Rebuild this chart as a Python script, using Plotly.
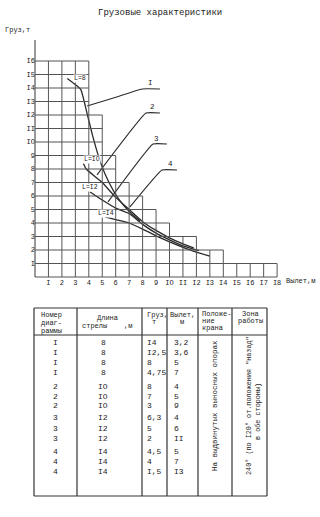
import plotly.graph_objects as go

# ---------------- data ----------------
TITLE = "Грузовые характеристики"
Y_LABEL = "Груз,т"
X_LABEL = "Вылет,м"

y_ticks = list(range(1, 17))
y_tick_text = ["I", "2", "3", "4", "5", "6", "7", "8", "9", "IO", "II", "I2", "I3", "I4", "I5", "I6"]
x_ticks = list(range(1, 19))
x_tick_text = ["I", "2", "3", "4", "5", "6", "7", "8", "9", "IO", "II", "I2", "I3", "I4", "I5", "I6", "I7", "I8"]

# stepped grid: width (reach, m) of the grid row topped at each load level
grid_levels = list(range(1, 17))
grid_widths = [18, 14, 12, 10, 9, 8, 7, 6, 6, 5, 5, 5, 4, 4, 4, 4]
y_axis_top = 17.55

# load curves (reach m, load t)
c1_x = [2.4, 3.4, 3.85, 4.3, 4.9, 5.5, 6.2, 7.0, 7.8]
c1_y = [14.7, 13.9, 12.2, 10.4, 8.4, 7.0, 5.8, 4.85, 4.15]
c2_x = [3.6, 3.8, 5.0, 6.0, 7.0, 8.0, 9.0, 10.0, 11.0, 11.8]
c2_y = [8.4, 8.0, 7.0, 5.9, 5.0, 4.1, 3.45, 2.9, 2.45, 2.15]
c3_x = [4.1, 5.0, 6.0, 7.0, 8.0, 9.0, 10.0, 11.0, 12.2]
c3_y = [6.3, 5.7, 5.1, 4.7, 3.9, 3.25, 2.75, 2.3, 1.95]
c4_x = [5.2, 6.0, 7.0, 8.0, 9.0, 10.0, 11.0, 12.0, 13.0]
c4_y = [4.45, 4.25, 4.0, 3.55, 3.05, 2.6, 2.2, 1.85, 1.55]

boom_labels = ["L=8", "L=IO", "L=I2", "L=I4"]
boom_label_x = [3.35, 4.24, 4.1, 5.28]
boom_label_y = [14.7, 8.74, 6.6, 4.74]

curve_names = ["I", "2", "3", "4"]
lead1_x = [3.87, 5.95, 7.96, 9.29]
lead1_y = [12.67, 13.3, 13.93, 13.93]
lead2_x = [4.61, 8.25, 9.29]
lead2_y = [7.56, 12.15, 12.15]
lead3_x = [5.43, 8.77, 9.81]
lead3_y = [5.56, 9.85, 9.85]
lead4_x = [7.06, 9.44, 10.56]
lead4_y = [5.19, 7.93, 7.93]
name_x = [8.55, 8.77, 9.07, 10.04]
name_y = [14.37, 12.59, 10.22, 8.37]

# table
hdr_num = ["Номер", "диаг-", "раммы"]
hdr_len = ["Длина", "стрелы    ,м"]
hdr_load = ["Груз,", "т"]
hdr_reach = ["Вылет,", "м"]
hdr_pos = ["Положе-", "ние", "крана"]
hdr_zone = ["Зона", "работы"]
col_num = ["I", "I", "I", "I", "2", "2", "2", "3", "3", "3", "4", "4", "4"]
col_len = ["8", "8", "8", "8", "IO", "IO", "IO", "I2", "I2", "I2", "I4", "I4", "I4"]
col_load = ["I4", "I2,5", "8", "4,75", "8", "7", "3", "6,3", "5", "2", "4,5", "4", "I,5"]
col_reach = ["3,2", "3,6", "5", "7", "4", "5", "9", "4", "6", "II", "5", "7", "I3"]
pos_text = "На выдвинутых выносных опорах"
zone_text1 = "240° (по I20° от.положения \"назад\""
zone_text2 = "в обе стороны)"

# ---------------- layout helpers ----------------
W, H = 320, 517
X0, XS = 35.0, 13.45     # pixel of reach 0, px per metre
Y0, YS = 277.0, 13.5     # pixel of load 0, px per tonne
FONT = "Liberation Mono"
INK = "#222222"
GRID = "#555555"

def px(x):
    return x / W

def py(y):
    return 1 - y / H

fig = go.Figure()

shapes = []
# stepped grid
for lev, w in zip(grid_levels, grid_widths):
    shapes.append(dict(type="line", xref="x", yref="y", x0=0, x1=w, y0=lev, y1=lev,
                       line=dict(color=GRID, width=1)))
shapes.append(dict(type="line", xref="x", yref="y", x0=0, x1=max(grid_widths), y0=0, y1=0,
                   line=dict(color=GRID, width=1)))
for j in x_ticks:
    top = max(l for l, w in zip(grid_levels, grid_widths) if w >= j)
    shapes.append(dict(type="line", xref="x", yref="y", x0=j, x1=j, y0=0, y1=top,
                       line=dict(color=GRID, width=1)))
shapes.append(dict(type="line", xref="x", yref="y", x0=0, x1=0, y0=0, y1=y_axis_top,
                   line=dict(color=GRID, width=1.2)))

# curves
for cx, cy in [(c1_x, c1_y), (c2_x, c2_y), (c3_x, c3_y), (c4_x, c4_y)]:
    fig.add_trace(go.Scatter(x=cx, y=cy, mode="lines",
                             line=dict(color="#2a2a2a", width=1.3, shape="spline", smoothing=0.35),
                             hoverinfo="skip", showlegend=False))
for lx, ly in [(lead1_x, lead1_y), (lead2_x, lead2_y), (lead3_x, lead3_y), (lead4_x, lead4_y)]:
    fig.add_trace(go.Scatter(x=lx, y=ly, mode="lines",
                             line=dict(color="#2a2a2a", width=1.1, shape="spline", smoothing=0.3),
                             hoverinfo="skip", showlegend=False))

ann = []
ann.append(dict(text=TITLE, x=px(160), y=py(13), xref="paper", yref="paper", showarrow=False,
                font=dict(family=FONT, size=9, color=INK), xanchor="center", yanchor="middle"))
ann.append(dict(text=Y_LABEL, x=px(3), y=py(30), xref="paper", yref="paper", showarrow=False,
                font=dict(family=FONT, size=7, color=INK), xanchor="left", yanchor="middle"))
ann.append(dict(text=X_LABEL, x=px(284), y=py(281), xref="paper", yref="paper", showarrow=False,
                font=dict(family=FONT, size=7, color=INK), xanchor="left", yanchor="middle"))
for t, x, y in zip(boom_labels, boom_label_x, boom_label_y):
    ann.append(dict(text=t, x=x, y=y, xref="x", yref="y", showarrow=False, bgcolor="white",
                    font=dict(family=FONT, size=6.5, color=INK), xanchor="center", yanchor="middle", borderpad=0))
for t, x, y in zip(curve_names, name_x, name_y):
    ann.append(dict(text=t, x=x, y=y, xref="x", yref="y", showarrow=False,
                    font=dict(family=FONT, size=7.5, color=INK), xanchor="center", yanchor="middle"))

# ---------------- table ----------------
col_edges = [34, 77, 142, 167, 198, 232, 267]
t_top, t_hdr, t_bot = 308, 335, 496
TL = "#333333"
for xe in col_edges:
    shapes.append(dict(type="line", xref="paper", yref="paper", x0=px(xe), x1=px(xe), y0=py(t_top), y1=py(t_bot),
                       line=dict(color=TL, width=1.2)))
for ye in [t_top, t_hdr, t_bot]:
    shapes.append(dict(type="line", xref="paper", yref="paper", x0=px(col_edges[0]), x1=px(col_edges[-1]),
                       y0=py(ye), y1=py(ye), line=dict(color=TL, width=1.2)))

def txt(s, x, y, anchor="left", size=7.5, angle=0):
    ann.append(dict(text=s, x=px(x), y=py(y), xref="paper", yref="paper", showarrow=False, textangle=angle,
                    font=dict(family=FONT, size=size, color=INK), xanchor=anchor, yanchor="middle"))

for i, s in enumerate(hdr_num):
    txt(s, 39, 315 + 8 * i, size=7)
for i, s in enumerate(hdr_len):
    txt(s, 107, 318 + 8 * i, anchor="center", size=7)
for i, s in enumerate(hdr_load):
    txt(s, 145 if i == 0 else 154, 315 + 7 * i, anchor="left" if i == 0 else "center", size=7)
for i, s in enumerate(hdr_reach):
    txt(s, 182, 315 + 7 * i, anchor="center", size=7)
for i, s in enumerate(hdr_pos):
    txt(s, 200, 314 + 7 * i, size=7)
for i, s in enumerate(hdr_zone):
    txt(s, 250, 314 + 7 * i, anchor="center", size=7)

row_y = [342, 352, 362, 372, 386, 396, 405, 417, 428, 438, 451, 461, 471]
for ry, a, b, c, d in zip(row_y, col_num, col_len, col_load, col_reach):
    txt(a, 55, ry, anchor="center", size=8)
    txt(b, 103, ry, anchor="center", size=8)
    txt(c, 145, ry, size=8)
    txt(d, 172, ry, size=8)

txt(pos_text, 215, 406, anchor="center", size=7.5, angle=-90)
txt(zone_text1, 249, 406, anchor="center", size=6.8, angle=-90)
txt(zone_text2, 258, 412, anchor="center", size=6.8, angle=-90)

fig.update_layout(
    width=W, height=H, margin=dict(l=0, r=0, t=0, b=0),
    paper_bgcolor="white", plot_bgcolor="white",
    shapes=shapes, annotations=ann, showlegend=False,
    xaxis=dict(range=[-X0 / XS, (W - X0) / XS], domain=[0, 1], anchor="free", position=1 - Y0 / H,
               tickvals=x_ticks, ticktext=x_tick_text, showgrid=False, zeroline=False, showline=False,
               ticks="", tickfont=dict(family=FONT, size=7, color=INK), automargin=False, fixedrange=True),
    yaxis=dict(range=[(Y0 - H) / YS, Y0 / YS], domain=[0, 1], anchor="free", position=X0 / W,
               tickvals=y_ticks, ticktext=y_tick_text, showgrid=False, zeroline=False, showline=False,
               ticks="", tickfont=dict(family=FONT, size=7, color=INK), automargin=False, fixedrange=True),
)

fig.write_html("out.html")
